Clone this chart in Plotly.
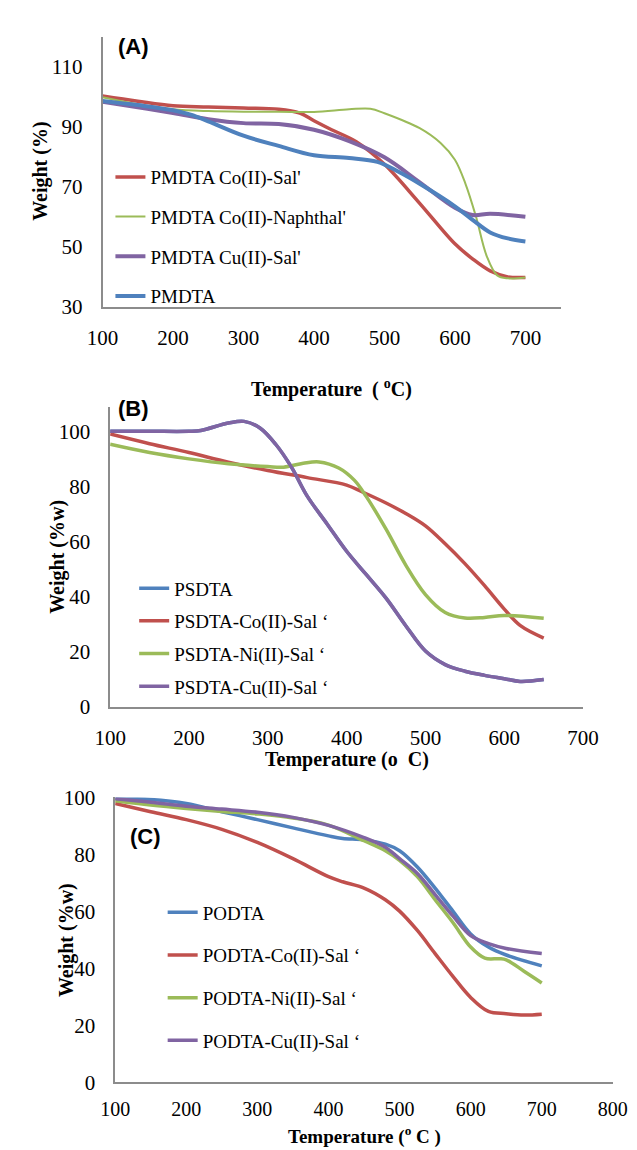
import plotly.graph_objects as go

W, H = 637, 1150

# ---------------- Panel A data ----------------
a_x_red = [100, 150, 200, 250, 300, 350, 380, 400, 425, 460, 500, 550, 600, 625, 650, 675, 700]
a_y_red = [100.2, 98.5, 97.0, 96.6, 96.2, 95.8, 94.5, 92.0, 89.0, 85.0, 77.5, 64.5, 51.0, 46.0, 42.0, 40.0, 39.8]
a_x_green = [100, 150, 200, 250, 300, 350, 400, 450, 480, 500, 550, 580, 600, 615, 630, 645, 660, 675, 700]
a_y_green = [99.8, 97.5, 95.8, 95.2, 95.0, 95.0, 94.9, 95.8, 96.0, 94.5, 89.5, 84.5, 79.0, 71.0, 60.0, 47.0, 40.5, 39.5, 39.8]
a_x_purple = [100, 150, 200, 250, 300, 350, 400, 450, 500, 550, 600, 625, 650, 700]
a_y_purple = [98.3, 96.5, 94.6, 92.5, 91.2, 90.9, 89.0, 85.2, 79.8, 71.5, 63.0, 60.6, 61.0, 60.0]
a_x_blue = [100, 150, 200, 225, 250, 300, 350, 400, 450, 490, 520, 550, 600, 625, 650, 675, 700]
a_y_blue = [98.6, 97.2, 95.5, 94.0, 91.8, 87.0, 83.6, 80.5, 79.6, 78.3, 75.0, 71.0, 63.5, 59.0, 54.8, 52.8, 51.8]
a_names = ["PMDTA Co(II)-Sal'", "PMDTA Co(II)-Naphthal'", "PMDTA Cu(II)-Sal'", "PMDTA"]
a_xticks = [100, 200, 300, 400, 500, 600, 700]
a_yticks = [30, 50, 70, 90, 110]

# ---------------- Panel B data ----------------
# PSDTA is not visible in the reference: it lies hidden beneath the Cu(II) curve
b_x_blue = [100, 150, 200, 215, 250, 270, 290, 310, 330, 350, 375, 400, 425, 450, 475, 500, 525, 550, 575, 600, 620, 650]
b_y_blue = [100, 100, 100, 100.3, 103.0, 103.6, 101.2, 95.3, 87.0, 76.5, 66.5, 56.5, 48.0, 39.5, 29.5, 20.3, 15.4, 13.0, 11.5, 10.3, 9.3, 10.0]
b_x_red = [100, 150, 200, 250, 300, 350, 400, 420, 450, 475, 500, 525, 550, 575, 600, 620, 650]
b_y_red = [99.0, 95.5, 92.3, 88.8, 85.8, 83.2, 80.5, 78.0, 74.0, 70.2, 65.7, 59.2, 52.0, 44.0, 35.5, 29.6, 25.0]
b_x_green = [100, 150, 200, 250, 300, 320, 345, 365, 390, 410, 425, 450, 475, 500, 525, 550, 575, 600, 650]
b_y_green = [95.3, 92.3, 90.0, 88.2, 87.2, 87.0, 88.4, 88.9, 86.7, 82.2, 76.3, 64.5, 51.5, 40.8, 34.3, 32.3, 32.5, 33.2, 32.2]
b_x_purple = [100, 150, 200, 215, 250, 270, 290, 310, 330, 350, 375, 400, 425, 450, 475, 500, 525, 550, 575, 600, 620, 650]
b_y_purple = [100, 100, 100, 100.3, 103.0, 103.6, 101.2, 95.3, 87.0, 76.5, 66.5, 56.5, 48.0, 39.5, 29.5, 20.3, 15.4, 13.0, 11.5, 10.3, 9.3, 10.0]
b_names = ["PSDTA", "PSDTA-Co(II)-Sal \u2018", "PSDTA-Ni(II)-Sal \u2018", "PSDTA-Cu(II)-Sal \u2018"]
b_xticks = [100, 200, 300, 400, 500, 600, 700]
b_yticks = [0, 20, 40, 60, 80, 100]

# ---------------- Panel C data ----------------
c_x_blue = [100, 150, 200, 250, 300, 350, 400, 420, 450, 480, 500, 525, 550, 575, 600, 625, 650, 700]
c_y_blue = [99.7, 99.3, 97.9, 95.0, 92.2, 89.3, 86.5, 85.6, 85.1, 83.6, 81.3, 75.6, 68.2, 60.1, 52.1, 47.5, 44.7, 40.9]
c_x_red = [100, 150, 200, 250, 300, 350, 400, 420, 450, 480, 500, 525, 550, 575, 600, 625, 650, 675, 700]
c_y_red = [97.9, 95.0, 92.2, 88.8, 84.2, 78.5, 72.2, 70.4, 68.2, 64.1, 60.1, 53.3, 45.2, 37.2, 29.8, 24.9, 24.1, 23.6, 23.9]
c_x_green = [100, 150, 200, 250, 300, 350, 400, 450, 480, 500, 525, 550, 575, 600, 620, 640, 650, 675, 700]
c_y_green = [98.8, 97.3, 96.1, 95.1, 94.2, 92.8, 90.3, 84.8, 81.3, 77.9, 72.2, 64.1, 56.1, 47.5, 43.6, 43.4, 43.0, 39.0, 34.9]
c_x_purple = [100, 150, 200, 250, 300, 350, 400, 450, 480, 500, 525, 550, 575, 600, 625, 650, 700]
c_y_purple = [99.5, 98.3, 96.9, 95.9, 94.8, 93.0, 90.2, 85.9, 82.5, 78.5, 73.3, 65.9, 58.4, 51.5, 48.7, 47.0, 45.2]
c_names = ["PODTA", "PODTA-Co(II)-Sal \u2018", "PODTA-Ni(II)-Sal \u2018", "PODTA-Cu(II)-Sal \u2018"]
c_xticks = [100, 200, 300, 400, 500, 600, 700, 800]
c_yticks = [0, 20, 40, 60, 80, 100]

BLUE, RED, GREEN, PURPLE = "#4F81BD", "#C0504D", "#9BBB59", "#8064A2"
AXIS_GRAY = "#8C8C8C"
SERIF = "Liberation Serif, Times New Roman, serif"
SANS = "Liberation Sans, Arial, sans-serif"

fig = go.Figure()


def px_x(p):
    return p / W


def px_y(p):
    return 1 - p / H


def add(xs, ys, name, color, width, xa, ya, legend, group):
    fig.add_trace(go.Scatter(
        x=xs, y=ys, name=name, mode="lines",
        line=dict(color=color, width=width, shape="spline", smoothing=1.0),
        xaxis=xa, yaxis=ya, legend=legend, legendgroup=group,
        showlegend=True))


# Panel A traces (legend order)
add(a_x_red, a_y_red, a_names[0], RED, 3.5, "x", "y", "legend", "a1")
add(a_x_green, a_y_green, a_names[1], GREEN, 2, "x", "y", "legend", "a2")
add(a_x_purple, a_y_purple, a_names[2], PURPLE, 4, "x", "y", "legend", "a3")
add(a_x_blue, a_y_blue, a_names[3], BLUE, 4, "x", "y", "legend", "a4")

# Panel B traces
add(b_x_blue, b_y_blue, b_names[0], BLUE, 3.5, "x2", "y2", "legend2", "b1")
add(b_x_red, b_y_red, b_names[1], RED, 3.5, "x2", "y2", "legend2", "b2")
add(b_x_green, b_y_green, b_names[2], GREEN, 3.5, "x2", "y2", "legend2", "b3")
add(b_x_purple, b_y_purple, b_names[3], PURPLE, 3.5, "x2", "y2", "legend2", "b4")

# Panel C traces
add(c_x_blue, c_y_blue, c_names[0], BLUE, 3.5, "x3", "y3", "legend3", "c1")
add(c_x_red, c_y_red, c_names[1], RED, 3.5, "x3", "y3", "legend3", "c2")
add(c_x_green, c_y_green, c_names[2], GREEN, 3.5, "x3", "y3", "legend3", "c3")
add(c_x_purple, c_y_purple, c_names[3], PURPLE, 3.5, "x3", "y3", "legend3", "c4")


def xaxis(domain, rng, ticks, anchor, size, standoff=11):
    return dict(domain=domain, range=rng, tickvals=ticks, showline=True,
                linecolor=AXIS_GRAY, linewidth=1.5, showgrid=False, zeroline=False,
                ticks="", anchor=anchor, ticklabelstandoff=standoff,
                tickfont=dict(family=SERIF, size=size, color="black"))


def yaxis(domain, rng, ticks, anchor, size):
    return dict(domain=domain, range=rng, tickvals=ticks, showline=True,
                linecolor=AXIS_GRAY, linewidth=1.5, showgrid=False, zeroline=False,
                ticks="", anchor=anchor, ticklabelstandoff=14,
                tickfont=dict(family=SERIF, size=size, color="black"))


def leg(x, y, gap):
    return dict(x=x, y=y, xanchor="left", yanchor="top", bgcolor="rgba(0,0,0,0)",
                borderwidth=0, tracegroupgap=gap, traceorder="grouped",
                font=dict(family=SERIF, size=19, color="black"))


fig.update_layout(
    width=W, height=H, margin=dict(l=0, r=0, t=0, b=0),
    paper_bgcolor="white", plot_bgcolor="white",
    xaxis=xaxis([px_x(82.7), px_x(565)], [100, 750], a_xticks, "y", 21),
    yaxis=yaxis([px_y(293), px_y(17)], [30, 120], a_yticks, "x", 21),
    xaxis2=xaxis([px_x(90.7), px_x(588.7)], [100, 700], b_xticks, "y2", 21),
    yaxis2=yaxis([px_y(701.7), px_y(395)], [0, 108.9], b_yticks, "x2", 21),
    xaxis3=xaxis([px_x(96), px_x(620)], [100, 800], c_xticks, "y3", 20, standoff=8),
    yaxis3=yaxis([px_y(1085), px_y(794)], [0, 100], c_yticks, "x3", 21),
    legend=leg(px_x(91), px_y(141), 12),
    legend2=leg(px_x(116), px_y(561), 5),
    legend3=leg(px_x(146), px_y(892), 15),
)

ann = []


def text(x, y, s, size, family=SERIF, bold=True, angle=0):
    ann.append(dict(x=px_x(x), y=px_y(y), xref="paper", yref="paper",
                    text=f"<b>{s}</b>" if bold else s, showarrow=False,
                    xanchor="center", yanchor="middle", textangle=angle,
                    font=dict(family=family, size=size, color="black")))


text(324, 376, "Temperature  ( <sup>o</sup>C)", 20)
text(18, 155, "Weight (%)", 20, angle=-90)
text(115, 27, "(A)", 22, family=SANS)

text(340, 755, "Temperature (o  C)", 20)
text(35, 548, "Weight (%w)", 20, angle=-90)
text(115, 397, "(B)", 22, family=SANS)

text(358, 1139, "Temperature (<sup>o</sup> C )", 19)
text(45, 940, "Weight (%w)", 20, angle=-90)
text(128, 834, "(C)", 22, family=SANS)

fig.update_layout(annotations=ann)

fig.write_html("out.html")
